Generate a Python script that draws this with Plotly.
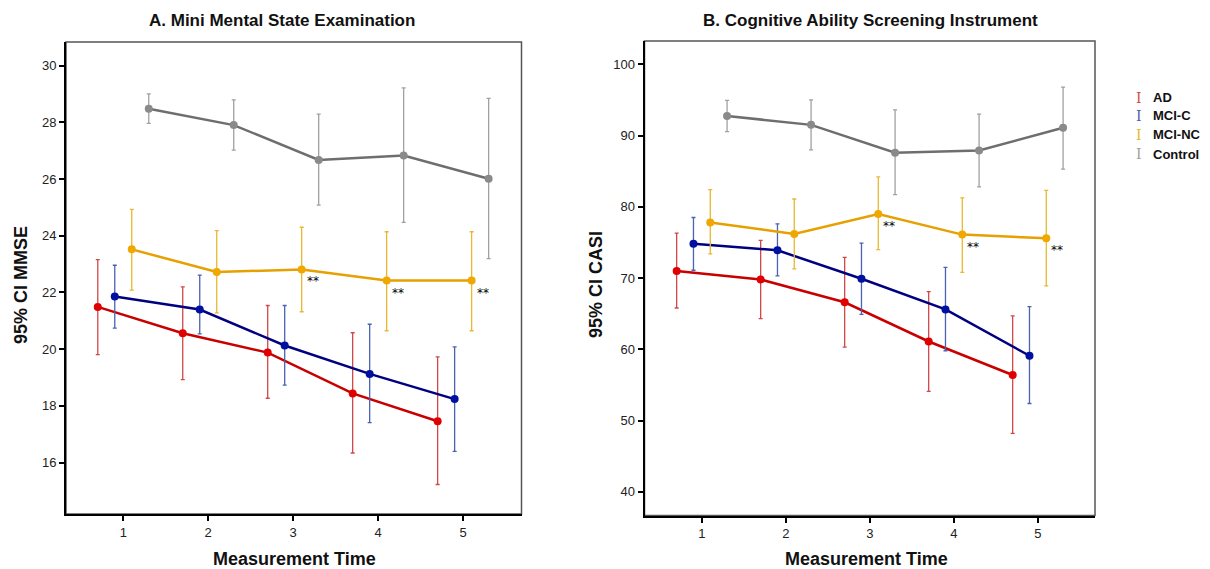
import plotly.graph_objects as go

times = [1, 2, 3, 4, 5]
groups = ["AD", "MCI-C", "MCI-NC", "Control"]
offsets = [-0.3, -0.1, 0.1, 0.3]
line_colors = ["#c80000", "#000080", "#e6a000", "#6e6e6e"]
marker_colors = ["#e00000", "#0010a0", "#f0a800", "#8a8a8a"]
err_colors = ["#d04848", "#4a62b0", "#e8b830", "#a0a0a0"]

# Panel A: MMSE (mean, upper CI, lower CI)
mmse_mean = {
    "AD": [21.49, 20.56, 19.88, 18.44, 17.46],
    "MCI-C": [21.86, 21.40, 20.13, 19.13, 18.24],
    "MCI-NC": [23.52, 22.72, 22.81, 22.42, 22.42],
    "Control": [28.48, 27.90, 26.67, 26.83, 26.01],
}
mmse_hi = {
    "AD": [23.16, 22.20, 21.54, 20.58, 19.73],
    "MCI-C": [22.96, 22.61, 21.54, 20.88, 20.08],
    "MCI-NC": [24.93, 24.18, 24.30, 24.14, 24.14],
    "Control": [29.00, 28.79, 28.29, 29.21, 28.84],
}
mmse_lo = {
    "AD": [19.81, 18.93, 18.27, 16.34, 15.23],
    "MCI-C": [20.74, 20.54, 18.73, 17.41, 16.40],
    "MCI-NC": [22.08, 21.28, 21.32, 20.65, 20.65],
    "Control": [27.96, 27.02, 25.08, 24.47, 23.19],
}

# Panel B: CASI
casi_mean = {
    "AD": [71.0, 69.8, 66.6, 61.1, 56.4],
    "MCI-C": [74.8, 73.9, 69.9, 65.6, 59.1],
    "MCI-NC": [77.8, 76.2, 79.0, 76.1, 75.6],
    "Control": [92.75, 91.5, 87.6, 87.9, 91.1],
}
casi_hi = {
    "AD": [76.3, 75.3, 72.9, 68.1, 64.7],
    "MCI-C": [78.5, 77.6, 74.9, 71.5, 66.0],
    "MCI-NC": [82.4, 81.1, 84.2, 81.25, 82.3],
    "Control": [94.95, 95.0, 93.6, 93.0, 96.8],
}
casi_lo = {
    "AD": [65.8, 64.3, 60.3, 54.1, 48.2],
    "MCI-C": [71.1, 70.3, 64.9, 59.8, 52.4],
    "MCI-NC": [73.4, 71.3, 74.0, 70.8, 68.9],
    "Control": [90.55, 88.0, 81.7, 82.8, 85.3],
}

sig_times = [3, 4, 5]  # MCI-NC significance markers "**"

mmse_ticks = [16, 18, 20, 22, 24, 26, 28, 30]
casi_ticks = [40, 50, 60, 70, 80, 90, 100]

fig = go.Figure()

def add_panel(mean, hi, lo, xa, ya):
    for g, off, lc, mc, ec in zip(groups, offsets, line_colors, marker_colors, err_colors):
        xs = [t + off for t in times]
        m = mean[g]
        fig.add_trace(go.Scatter(
            x=xs, y=m, mode="lines+markers", name=g, showlegend=False,
            xaxis=xa, yaxis=ya,
            line=dict(color=lc, width=2.5),
            marker=dict(color=mc, size=8),
            error_y=dict(type="data", symmetric=False,
                         array=[h - v for h, v in zip(hi[g], m)],
                         arrayminus=[v - l for v, l in zip(m, lo[g])],
                         color=ec, thickness=1.3, width=2),
        ))

add_panel(mmse_mean, mmse_hi, mmse_lo, "x", "y")
add_panel(casi_mean, casi_hi, casi_lo, "x2", "y2")

annotations = []
nc_off = offsets[groups.index("MCI-NC")]
for xa, ya, mean in [("x", "y", mmse_mean), ("x2", "y2", casi_mean)]:
    for t in sig_times:
        annotations.append(dict(
            x=t + nc_off, y=mean["MCI-NC"][t - 1], xref=xa, yref=ya,
            text="**", showarrow=False, xshift=11, yshift=-12,
            font=dict(family="DejaVu Sans", size=12, color="#000000"),
        ))

bold = dict(family="Liberation Sans, Arial", size=18, color="#111111")
tfont = dict(family="Liberation Sans, Arial", size=17, color="#111111")
# titles
annotations += [
    dict(text="<b>A. Mini Mental State Examination</b>", x=282 / 1210, y=1 - 21 / 569,
         xanchor="center", yanchor="middle",
         xref="paper", yref="paper", showarrow=False, font=tfont),
    dict(text="<b>B. Cognitive Ability Screening Instrument</b>", x=870 / 1210, y=1 - 21 / 569,
         xanchor="center", yanchor="middle",
         xref="paper", yref="paper", showarrow=False, font=tfont),
    dict(text="<b>Measurement Time</b>", x=294 / 1210, y=1 - 559 / 569,
         xanchor="center", yanchor="middle",
         xref="paper", yref="paper", showarrow=False, font=bold),
    dict(text="<b>Measurement Time</b>", x=866 / 1210, y=1 - 559 / 569,
         xanchor="center", yanchor="middle",
         xref="paper", yref="paper", showarrow=False, font=bold),
    dict(text="<b>95% CI MMSE</b>", x=21 / 1210, y=1 - 285 / 569, textangle=-90,
         xanchor="center", yanchor="middle",
         xref="paper", yref="paper", showarrow=False, font=bold),
    dict(text="<b>95% CI CASI</b>", x=596 / 1210, y=1 - 285 / 569, textangle=-90,
         xanchor="center", yanchor="middle",
         xref="paper", yref="paper", showarrow=False, font=bold),
]

# legend (error-bar glyphs)
leg_y = [98, 116, 135, 154]
for g, ec, yy in zip(groups, err_colors, leg_y):
    annotations.append(dict(text="I", x=1139 / 1210, y=1 - yy / 569, xref="paper", yref="paper",
                            xanchor="center", yanchor="middle",
                            showarrow=False, font=dict(family="DejaVu Serif", size=14, color=ec)))
    annotations.append(dict(text="<b>" + g + "</b>", x=1151 / 1210, y=1 - yy / 569, xref="paper", yref="paper",
                            xanchor="left", yanchor="middle", showarrow=False,
                            font=dict(family="Liberation Sans, Arial", size=13, color="#111")))

axis_common = dict(showgrid=False, zeroline=False, showline=True, linecolor="#000", linewidth=2,
                   ticks="outside", ticklen=5, tickwidth=1.5, tickcolor="#000",
                   tickfont=dict(family="Liberation Sans, Arial", size=13, color="#222"))

fig.update_layout(
    width=1210, height=569, margin=dict(l=0, r=0, t=0, b=0),
    plot_bgcolor="white", paper_bgcolor="white", showlegend=False,
    xaxis=dict(domain=[66 / 1210, 521.5 / 1210], range=[0.326, 5.687], tickvals=times,
               anchor="y", **axis_common),
    yaxis=dict(domain=[1 - 514 / 569, 1 - 42 / 569], range=[14.19, 30.83], tickvals=mmse_ticks,
               anchor="x", **axis_common),
    xaxis2=dict(domain=[644.5 / 1210, 1095 / 1210], range=[0.317, 5.68], tickvals=times,
                anchor="y2", **axis_common),
    yaxis2=dict(domain=[1 - 515.5 / 569, 1 - 41 / 569], range=[36.68, 103.27], tickvals=casi_ticks,
                anchor="x2", **axis_common),
    annotations=annotations,
    shapes=[
        dict(type="rect", xref="x domain", yref="y domain", x0=0, x1=1, y0=0, y1=1,
             line=dict(color="#555", width=1.5), layer="below"),
        dict(type="rect", xref="x2 domain", yref="y2 domain", x0=0, x1=1, y0=0, y1=1,
             line=dict(color="#555", width=1.5), layer="below"),
    ],
)

fig.write_html("out.html", config={"displayModeBar": False},
               post_script="document.body.style.margin='0';document.body.style.overflow='hidden';")
